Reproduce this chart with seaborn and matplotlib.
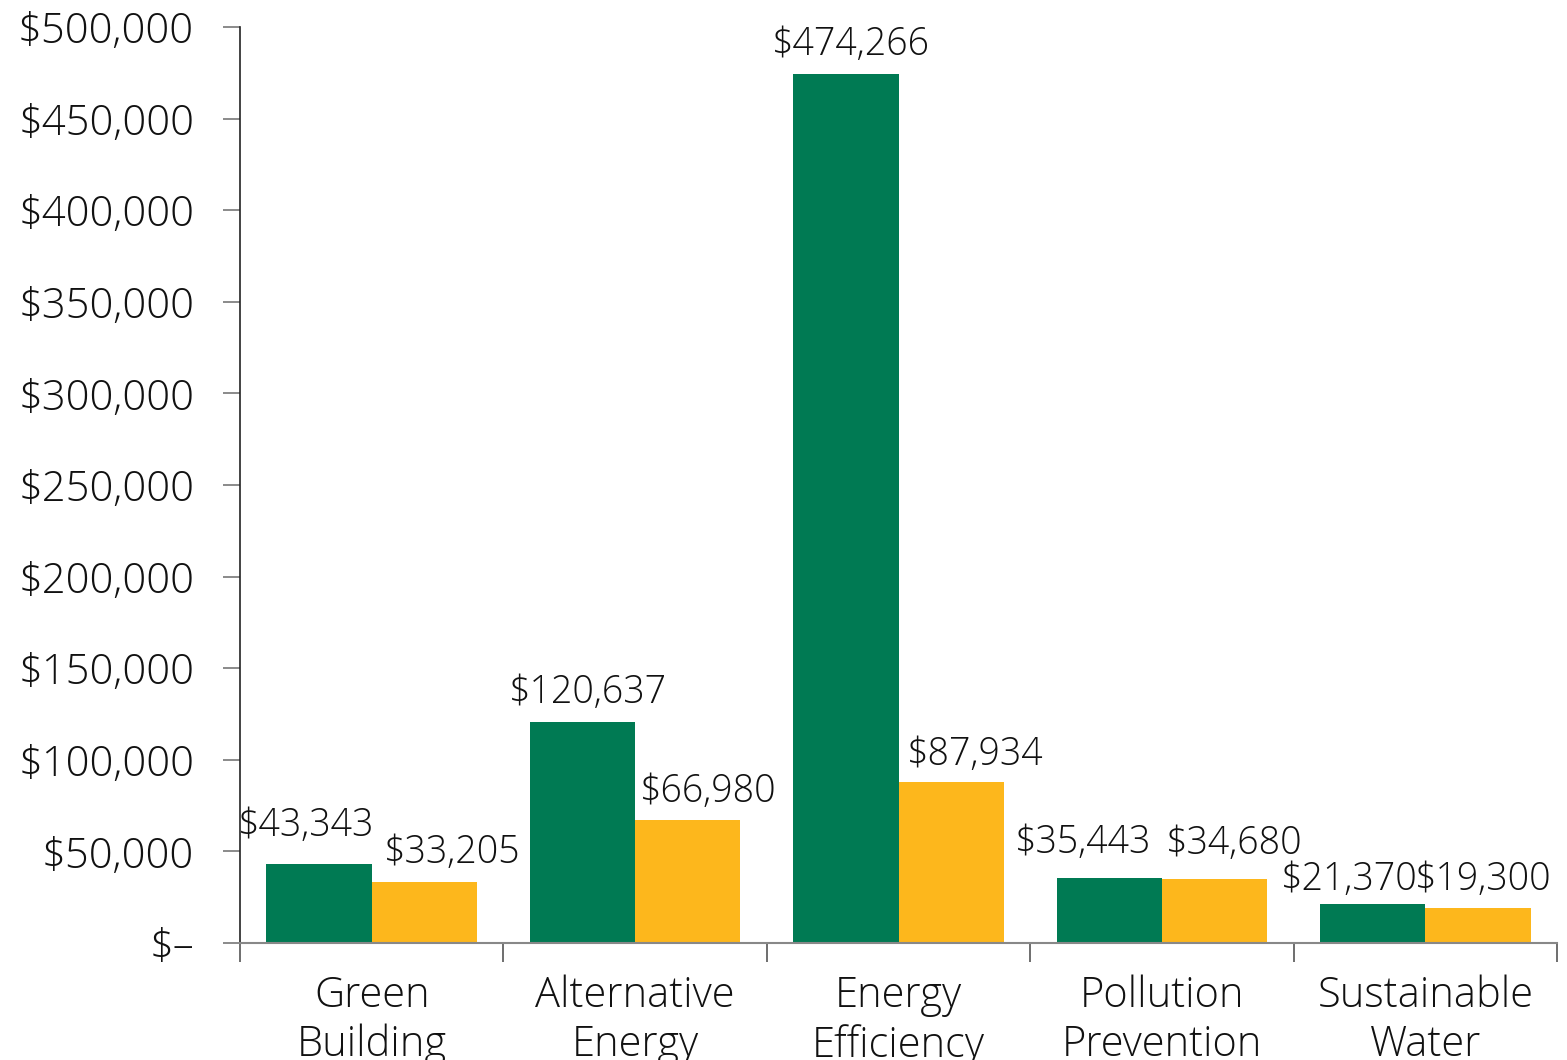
import pandas as pd
import numpy as np
import matplotlib
matplotlib.use('Agg')
import matplotlib.pyplot as plt
import seaborn as sns
from matplotlib.ticker import FuncFormatter, FixedLocator

# ---- data ----
CATEGORIES = ['Green\nBuilding', 'Alternative\nEnergy', 'Energy\nEfficiency',
              'Pollution\nPrevention', 'Sustainable\nWater']
SERIES_A = [43343, 120637, 474266, 35443, 21370]
SERIES_B = [33205, 66980, 87934, 34680, 19300]
SERIES_NAMES = ['Series A', 'Series B']
COLORS = ['#007A53', '#FDB71C']

df = pd.DataFrame({
    'Category': CATEGORIES * 2,
    'Series': [SERIES_NAMES[0]] * 5 + [SERIES_NAMES[1]] * 5,
    'Value': SERIES_A + SERIES_B,
})

sns.set_style('white')
plt.rcParams['font.family'] = ['Open Sans', 'DejaVu Sans']
plt.rcParams['font.weight'] = 'light'

fig = plt.figure(figsize=(15.67, 10.6), dpi=100)
ax = fig.add_axes([0.1532, 0.1104, 0.8404, 0.8641])

sns.barplot(data=df, x='Category', y='Value', hue='Series', palette=COLORS,
            width=0.8, gap=0, saturation=1, legend=False, ax=ax, errorbar=None,
            linewidth=0)

# label nudges in points (labels in the original are hand-placed to avoid clashes)
nudge_x = [[-9, 4, 4, -19, -17], [20, 15, 17, 14, 4]]
nudge_y = [[6.5, 0, 0, 4.5, -3.5], [0, 0, -1, 4.5, -1]]
for cont, dxs, dys in zip(ax.containers, nudge_x, nudge_y):
    for rect, v, dx, dy in zip(cont, cont.datavalues, dxs, dys):
        ax.annotate(f'${v:,.0f}', (rect.get_x() + rect.get_width() / 2, v),
                    xytext=(dx, 7 + dy), textcoords='offset points',
                    ha='center', va='bottom', fontsize=27, color='#111111')

ax.set_ylim(0, 500000)
ax.set_xlim(-0.5, 4.5)
ax.set_yticks(np.arange(0, 500001, 50000))
ax.yaxis.set_major_formatter(FuncFormatter(lambda v, p: '$–' if v == 0 else f'${v:,.0f}'))
ax.tick_params(axis='y', labelsize=30, length=12, width=1.2, color='#777777',
               pad=21, labelcolor='#111111', left=True)

# category labels at centers, boundary ticks as minor
ax.tick_params(axis='x', which='major', length=0, labelsize=30, pad=23, labelcolor='#111111')
for t in ax.get_xticklabels():
    t.set_linespacing(1.2)
ax.xaxis.set_minor_locator(FixedLocator(np.arange(-0.5, 5, 1)))
ax.tick_params(axis='x', which='minor', length=14, width=1.2, color='#555555', bottom=True)

ax.set_xlabel('')
ax.set_ylabel('')
for s in ['top', 'right']:
    ax.spines[s].set_visible(False)
ax.spines['left'].set_color('#222222')
ax.spines['left'].set_linewidth(1.2)
ax.spines['bottom'].set_color('#888888')
ax.spines['bottom'].set_linewidth(1.5)

fig.savefig('out.png', dpi=100)
